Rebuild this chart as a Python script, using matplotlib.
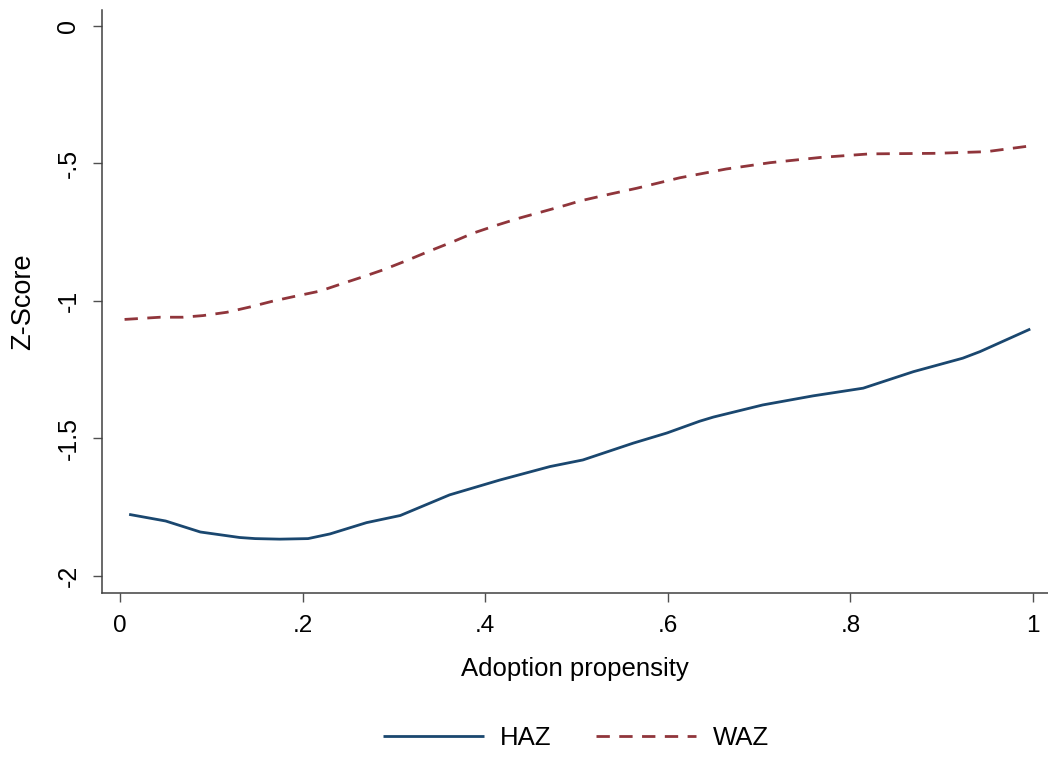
import matplotlib
matplotlib.use("Agg")
import matplotlib.pyplot as plt

# Data
haz_x = [0.01, 0.05, 0.088, 0.131, 0.148, 0.175, 0.206, 0.23, 0.27, 0.307, 0.361,
         0.416, 0.471, 0.507, 0.562, 0.599, 0.635, 0.65, 0.704, 0.759, 0.814,
         0.869, 0.923, 0.942, 0.997]
haz_y = [-1.776, -1.80, -1.84, -1.86, -1.864, -1.866, -1.864, -1.847, -1.806, -1.78,
         -1.705, -1.651, -1.602, -1.578, -1.517, -1.48, -1.437, -1.422, -1.378,
         -1.345, -1.317, -1.257, -1.208, -1.184, -1.102]

waz_x = [0.005, 0.044, 0.069, 0.091, 0.117, 0.142, 0.168, 0.193, 0.219, 0.245,
         0.267, 0.288, 0.314, 0.34, 0.365, 0.387, 0.413, 0.438, 0.463, 0.489,
         0.504, 0.537, 0.566, 0.613, 0.664, 0.712, 0.767, 0.821, 0.894, 0.949, 0.997]
waz_y = [-1.067, -1.059, -1.059, -1.053, -1.041, -1.022, -1.0, -0.982, -0.964, -0.935,
         -0.911, -0.887, -0.853, -0.817, -0.784, -0.753, -0.724, -0.698, -0.675, -0.651,
         -0.636, -0.611, -0.59, -0.552, -0.52, -0.497, -0.478, -0.465, -0.463, -0.457, -0.436]

x_ticks = [0, 0.2, 0.4, 0.6, 0.8, 1.0]
x_ticklabels = ["0", ".2", ".4", ".6", ".8", "1"]
y_ticks = [0, -0.5, -1, -1.5, -2]
y_ticklabels = ["0", "-.5", "-1", "-1.5", "-2"]

plt.rcParams['font.family'] = ['Liberation Sans', 'DejaVu Sans']

W, H = 1048, 758
fig = plt.figure(figsize=(W / 100, H / 100), dpi=100)
ax = fig.add_axes([102 / W, 1 - 593 / H, (W - 102) / W, (593 - 10) / H])

ax.plot(haz_x, haz_y, color="#1a476f", lw=2.0, label="HAZ", solid_capstyle='butt')
ax.plot(waz_x, waz_y, color="#90353b", lw=2.0, label="WAZ", dashes=(4.8, 3.4))

ax.set_xlim(-18 / 913, (W - 120) / 913)
ax.set_ylim(-2 - 17 / 275, 16 / 275)

for s in ["top", "right"]:
    ax.spines[s].set_visible(False)
for s in ["left", "bottom"]:
    ax.spines[s].set_color("#404040")
    ax.spines[s].set_linewidth(1.1)

ax.set_xticks(x_ticks)
ax.set_xticklabels(x_ticklabels, fontsize=17.5)
ax.set_yticks(y_ticks)
ax.set_yticklabels(y_ticklabels, fontsize=18, rotation=90, va="center")
ax.tick_params(axis="both", length=6.5, width=1.0, color="#505050", pad=9)

ax.set_xlabel("Adoption propensity", fontsize=18.5, labelpad=15)
ax.set_ylabel("Z-Score", fontsize=19.5, labelpad=15)

fig.legend(loc="center", bbox_to_anchor=(576 / W, 1 - 738 / H), ncol=2, frameon=False,
           fontsize=18.5, handlelength=3.9, handletextpad=0.65, columnspacing=1.7)

fig.savefig("out.png", dpi=100)
